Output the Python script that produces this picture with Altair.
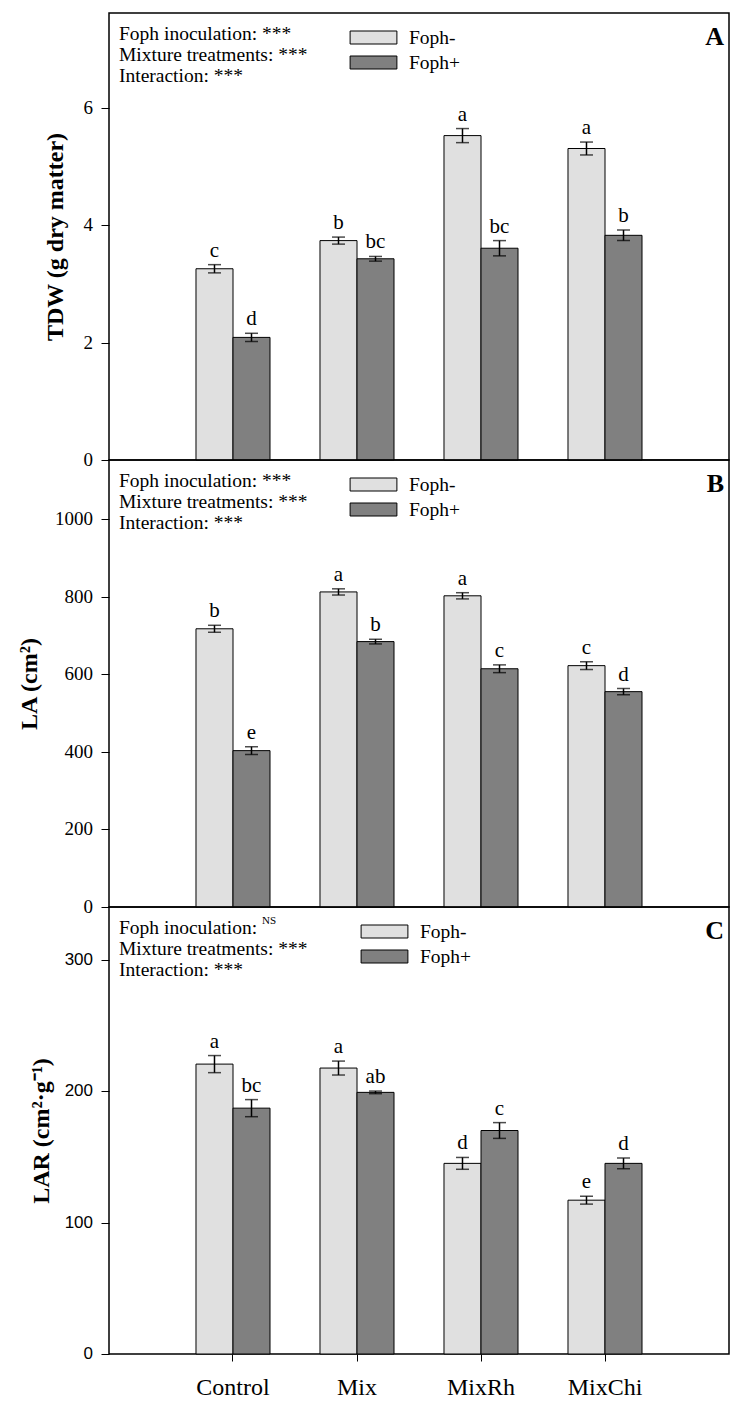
import altair as alt
import pandas as pd

groups = ["Control", "Mix", "MixRh", "MixChi"]
treatments = ["Foph-", "Foph+"]
colors = ["#e0e0e0", "#808080"]

# Panel A: TDW
tdw_minus = [3.26, 3.74, 5.53, 5.31]
tdw_plus = [2.09, 3.43, 3.61, 3.83]
tdw_err_minus = [0.07, 0.06, 0.12, 0.11]
tdw_err_plus = [0.07, 0.04, 0.13, 0.09]
tdw_let_minus = ["c", "b", "a", "a"]
tdw_let_plus = ["d", "bc", "bc", "b"]
tdw_ticks = [0, 2, 4, 6]

# Panel B: LA
la_minus = [717, 812, 802, 622]
la_plus = [403, 684, 614, 555]
la_err_minus = [9, 8, 8, 10]
la_err_plus = [10, 6, 10, 8]
la_let_minus = ["b", "a", "a", "c"]
la_let_plus = ["e", "b", "c", "d"]
la_ticks = [0, 200, 400, 600, 800, 1000]

# Panel C: LAR
lar_minus = [220.5, 217.5, 145, 117]
lar_plus = [187, 199, 170, 145]
lar_err_minus = [6.5, 5.3, 4.5, 3]
lar_err_plus = [6.5, 1, 6, 4]
lar_let_minus = ["a", "a", "d", "e"]
lar_let_plus = ["bc", "ab", "c", "d"]
lar_ticks = [0, 100, 200, 300]

stats_abc = ["Foph inoculation: ***", "Mixture treatments: ***", "Interaction: ***"]
stats_c = ["Foph inoculation: ", "Mixture treatments: ***", "Interaction: ***"]

SERIF = "Liberation Serif"
SANS = "Liberation Sans"
W, H = 620, 447

RECT = "M-3.6,-1H3.6V1H-3.6Z"


def panel(vm, vp, em, ep, lm, lp, ymax, ticks, ytitle, title_x, tick_font,
          tick_size, stats, letter, legend_x, label_x, show_x, ns=False):
    df = pd.DataFrame({
        "group": groups * 2,
        "treat": [treatments[0]] * 4 + [treatments[1]] * 4,
        "value": vm + vp,
        "err": em + ep,
        "letter": lm + lp,
    })
    base = alt.Chart(df).transform_calculate(
        lo="datum.value - datum.err", hi="datum.value + datum.err"
    )
    if show_x:
        xaxis = alt.Axis(title=None, labels=False, tickSize=7,
                         domain=False, ticks=True, tickColor="black")
    else:
        xaxis = None
    xsc = alt.Scale(domain=groups, paddingInner=0.403, paddingOuter=0.7015)
    x = alt.X("group:N", sort=groups, scale=xsc, axis=xaxis)
    xo = alt.XOffset("treat:N",
                     scale=alt.Scale(domain=treatments, paddingInner=0, paddingOuter=0))
    ysc = alt.Scale(domain=[0, ymax], nice=False, zero=True)
    yaxis = alt.Axis(values=ticks, labels=False, title=ytitle, grid=False,
                     domain=False, tickSize=8, tickColor="black",
                     titleFont=SERIF, titleFontSize=24, titleFontWeight="bold",
                     titleColor="black", titleX=title_x, titleY=H / 2,
                     titleAngle=270, titleAlign="center",
                     titleBaseline="middle")
    bars = base.mark_bar(stroke="black", strokeWidth=1).encode(
        x=x, xOffset=xo,
        y=alt.Y("value:Q", scale=ysc, axis=yaxis),
        color=alt.Color("treat:N",
                        scale=alt.Scale(domain=treatments, range=colors),
                        legend=alt.Legend(orient="none", legendX=legend_x,
                                          legendY=15, title=None,
                                          symbolType=RECT, symbolSize=169,
                                          symbolStrokeColor="black",
                                          symbolStrokeWidth=1,
                                          labelExpr="''", labelFontSize=19,
                                          labelOffset=28, rowPadding=5,
                                          padding=0)),
    )
    rule = base.mark_rule(color="black", strokeWidth=1.5).encode(
        x=x, xOffset=xo,
        y=alt.Y("lo:Q", scale=ysc, axis=yaxis), y2="hi:Q")
    cap_lo = base.mark_tick(color="black", thickness=1.5, size=13).encode(
        x=x, xOffset=xo, y=alt.Y("lo:Q", scale=ysc, axis=yaxis))
    cap_hi = base.mark_tick(color="black", thickness=1.5, size=13).encode(
        x=x, xOffset=xo, y=alt.Y("hi:Q", scale=ysc, axis=yaxis))
    letters = base.mark_text(font=SERIF, fontSize=21, baseline="bottom",
                             dy=-4, color="black").encode(
        x=x, xOffset=xo, y=alt.Y("hi:Q", scale=ysc, axis=yaxis),
        text="letter:N")
    # y tick labels
    tick_labels = alt.Chart(pd.DataFrame({"tick": ticks})).mark_text(
        font=tick_font, fontSize=tick_size, align="right", baseline="middle",
        color="black").encode(
        x=alt.value(-16), y=alt.Y("tick:Q", scale=ysc, axis=yaxis),
        text=alt.Text("tick:Q", format="d"))
    layers = [bars, rule, cap_lo, cap_hi, letters, tick_labels]
    # legend labels
    for i, t in enumerate(treatments):
        layers.append(
            alt.Chart(pd.DataFrame({"t": [t]})).mark_text(
                font=SERIF, fontSize=19.5, align="left", baseline="middle",
                color="black").encode(
                x=alt.value(label_x), y=alt.value(25 + 25 * i), text="t:N"))
    if show_x:
        layers.append(
            alt.Chart(pd.DataFrame({"group": groups})).mark_text(
                font=SERIF, fontSize=24, baseline="alphabetic",
                color="black").encode(
                x=alt.X("group:N", sort=groups, scale=xsc, axis=xaxis),
                y=alt.value(H + 41), text="group:N"))
    for i, line in enumerate(stats):
        layers.append(
            alt.Chart(pd.DataFrame({"t": [line]})).mark_text(
                font=SERIF, fontSize=19.5, align="left", baseline="middle",
                color="black").encode(
                x=alt.value(10), y=alt.value(21 + 21 * i), text="t:N"))
    if ns:
        layers.append(
            alt.Chart(pd.DataFrame({"t": ["NS"]})).mark_text(
                font=SERIF, fontSize=11, align="left", baseline="middle",
                color="black").encode(
                x=alt.value(153), y=alt.value(14), text="t:N"))
    layers.append(
        alt.Chart(pd.DataFrame({"t": [letter]})).mark_text(
            font=SERIF, fontSize=26, fontWeight="bold", align="right",
            baseline="middle", color="black").encode(
            x=alt.value(W - 5), y=alt.value(24), text="t:N"))
    return alt.layer(*layers).properties(width=W, height=H)


pA = panel(tdw_minus, tdw_plus, tdw_err_minus, tdw_err_plus, tdw_let_minus,
           tdw_let_plus, 7.62, tdw_ticks, "TDW (g dry matter)", -54, SERIF, 19,
           stats_abc, "A", 255, 300, False)
pB = panel(la_minus, la_plus, la_err_minus, la_err_plus, la_let_minus,
           la_let_plus, 1152, la_ticks, "LA (cm²)", -80, SERIF, 19,
           stats_abc, "B", 255, 300, False)
pC = panel(lar_minus, lar_plus, lar_err_minus, lar_err_plus, lar_let_minus,
           lar_let_plus, 340, lar_ticks, "LAR (cm²·g⁻¹)", -68, SANS, 17,
           stats_c, "C", 266, 311, True, ns=True)

chart = alt.vconcat(pA, pB, pC, spacing=0, bounds="flush").resolve_scale(
    y="independent", color="independent"
).resolve_legend(color="independent").properties(
    padding={"left": 8, "top": 4, "right": 2, "bottom": 0},
    background="white",
).configure_view(stroke="black", strokeWidth=1.5).configure_axis(
    tickColor="black"
)

chart.save("out.html", embed_options={"renderer": "svg", "actions": False})
